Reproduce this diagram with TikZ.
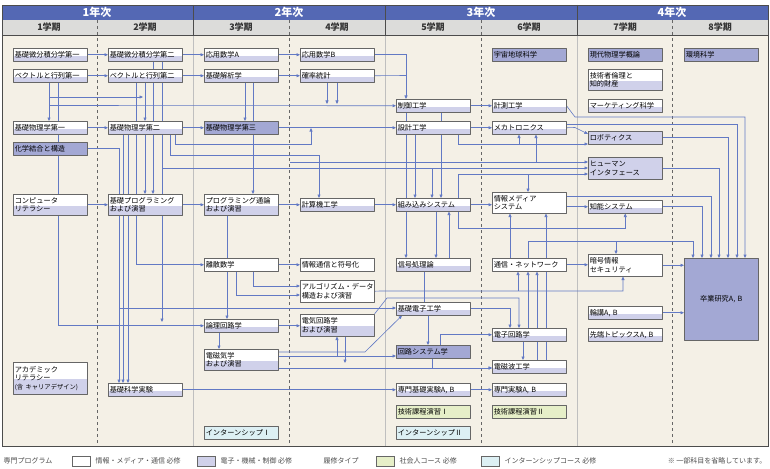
\documentclass[tikz,border=0pt]{standalone}
\usepackage{fontspec}
\setmainfont{Noto Sans CJK JP}
\usetikzlibrary{arrows.meta}
\definecolor{hdr}{HTML}{5468B4}
\definecolor{sub}{HTML}{DCDCDA}
\definecolor{bdy}{HTML}{F4F0E6}
\definecolor{lav}{HTML}{D0D1EA}
\definecolor{dkl}{HTML}{A3A8D4}
\definecolor{grn}{HTML}{E6EFC8}
\definecolor{blu}{HTML}{DDF0F4}
\definecolor{lc}{HTML}{6279C4}
\pgfdeclarelayer{bg}
\pgfdeclarelayer{lines}
\pgfsetlayers{bg,lines,main}
\tikzset{
  box/.style={draw=black!60, line width=0.5pt, anchor=north west, minimum width=74pt,
    minimum height=13pt, text width=71pt, inner xsep=1.5pt, inner ysep=0.5pt, align=left,
    font=\fontsize{7.2}{8.4}\selectfont},
  boxtw/.style={box, fill=white, path picture={\fill[lav] (path picture bounding box.south west) rectangle ([yshift=-1pt]path picture bounding box.east);}},
  boxwt/.style={box, fill=white},
  boxlv/.style={box, fill=lav},
  boxdk/.style={box, fill=dkl},
  boxgr/.style={box, fill=grn},
  boxbl/.style={box, fill=blu},
  line/.style={draw=lc, line width=0.6pt},
  arr/.style={line, -{Triangle[length=3.5pt,width=3pt]}},
  yearlbl/.style={text=white, font=\fontsize{11}{13}\selectfont\bfseries},
  termlbl/.style={font=\fontsize{9}{11}\selectfont\bfseries, text=black!80},
  leg/.style={font=\fontsize{7}{8}\selectfont, text=black!70, anchor=west},
}
\begin{document}
\begin{tikzpicture}[x=1pt,y=-1pt,line cap=round,line join=round]
\useasboundingbox (0,0) rectangle (770,468);
% column 1
\node[boxtw] (bi1) at (13,48) {基礎微分積分学第一};
\node[boxtw] (vm1) at (13,69) {ベクトルと行列第一};
\node[boxtw] (ph1) at (13,121) {基礎物理学第一};
\node[boxdk] (chem) at (13,142) {化学結合と構造};
\node[boxtw, minimum height=21pt] (cl) at (13,194) {コンピュータ\\リテラシー};
\node[boxtw, minimum height=32pt] (acad) at (13,362) {アカデミック\\リテラシー\\{\fontsize{6.3}{8.4}\selectfont (含~キャリアデザイン)}};
% column 2
\node[boxtw] (bi2) at (108,48) {基礎微分積分学第二};
\node[boxtw] (vm2) at (108,69) {ベクトルと行列第二};
\node[boxtw] (ph2) at (108,121) {基礎物理学第二};
\node[boxtw, minimum height=21pt] (bp) at (108,194) {基礎プログラミング\\および演習};
\node[boxtw] (kj) at (108,383) {基礎科学実験};
% column 3
\node[boxtw] (oa) at (204,48) {応用数学A};
\node[boxtw] (ka) at (204,69) {基礎解析学};
\node[boxdk] (ph3) at (204,121) {基礎物理学第三};
\node[boxtw, minimum height=21pt] (pt) at (204,194) {プログラミング通論\\および演習};
\node[boxwt] (ri) at (204,258) {離散数学};
\node[boxtw] (ro) at (204,319) {論理回路学};
\node[boxtw, minimum height=21pt] (em) at (204,349) {電磁気学\\および演習};
\node[boxbl] (in1) at (204,426) {インターンシップⅠ};
% column 4
\node[boxtw] (ob) at (300,48) {応用数学B};
\node[boxtw] (ks) at (300,69) {確率統計};
\node[boxtw] (ck) at (300,198) {計算機工学};
\node[boxwt] (jt) at (300,258) {情報通信と符号化};
\node[boxwt, minimum height=22pt] (al) at (300,280) {アルゴリズム・データ\\構造および演習};
\node[boxtw, minimum height=22pt] (dk) at (300,314) {電気回路学\\および演習};
% column 5
\node[boxtw] (sg) at (396,99) {制御工学};
\node[boxtw] (sk) at (396,121) {設計工学};
\node[boxtw] (kb) at (396,198) {組み込みシステム};
\node[boxtw] (sh) at (396,258) {信号処理論};
\node[boxtw] (ke) at (396,302) {基礎電子工学};
\node[boxdk] (cs) at (396,345) {回路システム学};
\node[boxtw] (sj) at (396,383) {専門基礎実験A, B};
\node[boxgr] (en1) at (396,405) {技術課程演習Ⅰ};
\node[boxbl] (in2) at (396,426) {インターンシップⅡ};
% column 6
\node[boxdk] (uc) at (492,48) {宇宙地球科学};
\node[boxtw] (km) at (492,99) {計測工学};
\node[boxtw] (mc) at (492,121) {メカトロニクス};
\node[boxwt, minimum height=21pt] (im) at (492,192) {情報メディア\\システム};
\node[boxwt] (nw) at (492,258) {通信・ネットワーク};
\node[boxtw] (dc) at (492,328) {電子回路学};
\node[boxtw] (ew) at (492,360) {電磁波工学};
\node[boxtw] (ej) at (492,383) {専門実験A, B};
\node[boxgr] (en2) at (492,405) {技術課程演習Ⅱ};
% column 7
\node[boxdk] (gb) at (588,48) {現代物理学概論};
\node[boxtw, minimum height=21pt] (rin) at (588,69) {技術者倫理と\\知的財産};
\node[boxtw] (mk) at (588,99) {マーケティング科学};
\node[boxlv] (rb) at (588,131) {ロボティクス};
\node[boxlv, minimum height=22pt] (hi) at (588,157) {ヒューマン\\インタフェース};
\node[boxtw] (cn) at (588,200) {知能システム};
\node[boxwt, minimum height=22pt] (ak) at (588,254) {暗号情報\\セキュリティ};
\node[boxtw] (rk) at (588,306) {輪講A, B};
\node[boxtw] (st) at (588,328) {先端トピックスA, B};
% column 8
\node[boxdk] (kk) at (684,48) {環境科学};
\node[boxdk, minimum height=82pt, align=center] (sot) at (684,258) {卒業研究A, B};
% frame, header and legend
\begin{pgfonlayer}{bg}
  \fill[bdy] (2,35) rectangle (768,446);
  \fill[hdr] (2,5) rectangle (768,20);
  \fill[sub] (2,20) rectangle (768,35);
  \foreach \x in {193,385,577} \draw[black!25, line width=0.6pt] (\x,35) -- (\x,446);
  \foreach \x in {193,385,577} \draw[black!70, line width=0.8pt] (\x,5) -- (\x,35);
  \foreach \x in {97,289,481,672} \draw[black!60, dashed, line width=0.4pt] (\x,20) -- (\x,446);
  \draw[black!70, line width=0.8pt] (2,5) rectangle (768,446);
  \draw[black!70, line width=0.6pt] (2,35) -- (768,35);
  \foreach \x/\t in {97/1,289/2,481/3,672/4} \node[yearlbl] at (\x,12.5) {\t 年次};
  \foreach \x/\t in {49/1,145/2,241/3,337/4,433/5,529/6,625/7,720/8} \node[termlbl] at (\x,27.5) {\t 学期};
  \node[leg] at (0,461) {専門プログラム};
  \draw[black!60, fill=white] (72,456) rectangle (90,466);
  \node[leg] at (92,461) {情報・メディア・通信 必修};
  \draw[black!60, fill=lav] (197,456) rectangle (215,466);
  \node[leg] at (217,461) {電子・機械・制御 必修};
  \node[leg] at (320,461) {履修タイプ};
  \draw[black!60, fill=grn] (376,456) rectangle (394,466);
  \node[leg] at (396,461) {社会人コース 必修};
  \draw[black!60, fill=blu] (481,456) rectangle (499,466);
  \node[leg] at (501,461) {インターンシップコース 必修};
  \node[leg, anchor=east] at (770,461) {※ 一部科目を省略しています。};
\end{pgfonlayer}
% connectors
\begin{pgfonlayer}{lines}
  \draw[arr] (bi1) -- (bi2);
  \draw[arr] (bi2) -- (oa);
  \draw[arr] (oa) -- (ob);
  \draw[arr] (vm1) -- (vm2);
  \draw[arr] (vm2) -- (ka);
  \draw[arr] (ka) -- (ks);
  \draw[arr] (ph1) -- (ph2);
  \draw[arr] (ph2) -- (ph3);
  \draw[arr] (ph3.east) -- (sk.west);
  \draw[arr] (cl) -- (bp);
  \draw[arr] (bp) -- (pt);
  \draw[arr] (pt) -- (ck);
  \draw[arr] (ck) -- (kb);
  \draw[arr] (kb.east) -- (kb.east -| im.west);
  \draw[arr] (ri) -- (jt);
  \draw[arr] (ro.east) -- (ro.east -| dk.west);
  \draw[arr] (sg) -- (km);
  \draw[arr] (sk) -- (mc);
  \draw[arr] (cn.west -| im.east) -- (cn.west);
  \draw[arr] (nw.east) -- (nw.east -| ak.west);
  \draw[arr] (ak.east) -- (ak.east -| sot.west);
  \draw[arr] (rk.east) -- (rk.east -| sot.west);
  \draw[arr] (kj) -- (sj);
  \draw[arr] (sj) -- (ej);
  \draw[arr] (ob.east) -| (sg.north -| 406,0);
  \draw[line] (ks.east) -- (406,75.5);
  \draw[arr] (vm1.south -| 49,0) -- (ph1.north -| 49,0);
  \draw[arr] (49,97) -- (143,97);
  \draw[arr] (49,105.5) -- (sg.west);
  \draw[line] (vm1.south -| 58,0) -- (cl.north -| 58,0);
  \draw[arr] (cl.south -| 58,0) |- (ro.west);
  \draw[arr] (chem.east) -| (kj.north -| 119,0);
  \draw[arr] (ph2.south -| 123,0) -- (kj.north -| 123,0);
  \draw[arr] (ph2.south -| 128,0) -- (kj.north -| 128,0);
  \draw[arr] (vm2.south -| 136,0) |- (ri.west);
  \draw[arr] (vm2.south -| 145,0) -- (ph2.north -| 145,0);
  \draw[arr] (ph2.south -| 145,0) -- (bp.north -| 145,0);
  \draw[arr] (bi2.south -| 153,0) -- (bp.north -| 153,0);
  \draw[arr] (bi2.south -| 162,0) -- (162,322);
  \draw[arr] (162,168) -- (hi.west |- 0,168);
  \draw[arr] (ph2.south -| 175,0) |- (311,144) -- (311,128);
  \draw[arr] (ph2.south -| 170,0) |- (319,155) -- (ck.north -| 319,0);
  \draw[arr] (ka.south -| 245,0) -- (ph3.north -| 245,0);
  \draw[arr] (ka.south -| 253,0) -- (pt.north -| 253,0);
  \draw[arr] (ks.south -| 327,0) -- (327,104);
  \draw[arr] (ks.south -| 337,0) -- (337,104);
  \draw[arr] (290,162) -- (hi.west |- 0,162);
  \draw[arr] (sk.south -| 458,0) |- (rb.west |- 0,144);
  \draw[arr] (mc.east) -- (575,127.5) -- (rb.west |- 0,134);
  \draw[arr] (sk.south -| 415,0) -- (kb.north -| 415,0);
  \draw[arr] (sg.south -| 441,0) -- (kb.north -| 441,0);
  \draw[arr] (432,168) -- (kb.north -| 432,0);
  \draw[arr] (519,144) -- (mc.south -| 519,0);
  \draw[arr] (536,162) -- (mc.south -| 536,0);
  \draw[arr] (kb.north -| 458,0) |- (hi.west |- 0,174);
  \draw[arr] (528,174) -- (im.north -| 528,0);
  \draw[arr] (nw.north -| 510,0) -- (im.south -| 510,0);
  \draw[arr] (nw.north -| 528,0) |- (693,241) -- (sot.north -| 693,0);
  \draw[arr] (616,241) -- (ak.north -| 616,0);
  \draw[arr] (sh.north -| 449,0) -- (kb.south -| 449,0);
  \draw[arr] (kb.south -| 458,0) -- (458,228) -| (cn.south);
  \draw[arr] (sg.south -| 406,0) -- (sh.north -| 406,0);
  \draw[arr] (kb.south -| 436,0) -- (sh.north -| 436,0);
  \draw[line] (sh.south -| 424,0) -- (ke.north -| 424,0);
  \draw[arr] (al.east) -- (380,291) -| (ak.south -| 623,0);
  \draw[arr] (518,291) -- (nw.south -| 518,0);
  \draw[arr] (ke.east) -| (dc.north -| 510,0);
  \draw[arr] (dk.north east) -- (387,298) -| (dc.north -| 519,0);
  \draw[arr] (em.east |- 0,352) -- (365,352) -- ([xshift=6pt]ke.south west);
  \draw[arr] (em.east |- 0,356) -- (cs.west |- 0,356);
  \draw[arr] (em.east |- 0,368) -- (ew.west |- 0,368);
  \draw[arr] (337,356) -- (dk.south -| 337,0);
  \draw[arr] (dk.south -| 345,0) -- (345,363);
  \draw[arr] (119,308) -- (ke.west |- 0,308);
  \draw[arr] (ke.south -| 428,0) -- (cs.north -| 428,0);
  \draw[arr] (cs.south -| 432,0) |- (ew.west |- 0,368);
  \draw[arr] (cs.north -| 440,0) |- (dc.west);
  \draw[arr] (dc.south -| 523,0) -- (ew.north -| 523,0);
  \draw[arr] (dc.north -| 528,0) -- (nw.south -| 528,0);
  \draw[arr] (ew.north -| 537,0) -- (nw.south -| 537,0);
  \draw[arr] (ew.north -| 546,0) -- (im.south -| 546,0);
  \draw[arr] (ri.south -| 253,0) |- (al.west |- 0,286);
  \draw[arr] (ri.south -| 236,0) |- (al.west |- 0,295);
  \draw[arr] (pt.south -| 227,0) -- (ro.north -| 227,0);
  \draw[arr] (ro.south -| 219,0) -- (em.north -| 219,0);
  \draw[arr] (km.east) -- (575,117) -| (sot.north -| 745,0);
  \draw[arr] (mc.east |- 0,124) -| (sot.north -| 737,0);
  \draw[arr] (rb.east) -| (sot.north -| 728,0);
  \draw[arr] (hi.east) -| (sot.north -| 719,0);
  \draw[arr] (im.east |- 0,196) -| (sot.north -| 711,0);
  \draw[arr] (cn.east) -| (sot.north -| 702,0);
\end{pgfonlayer}
\end{tikzpicture}
\end{document}
